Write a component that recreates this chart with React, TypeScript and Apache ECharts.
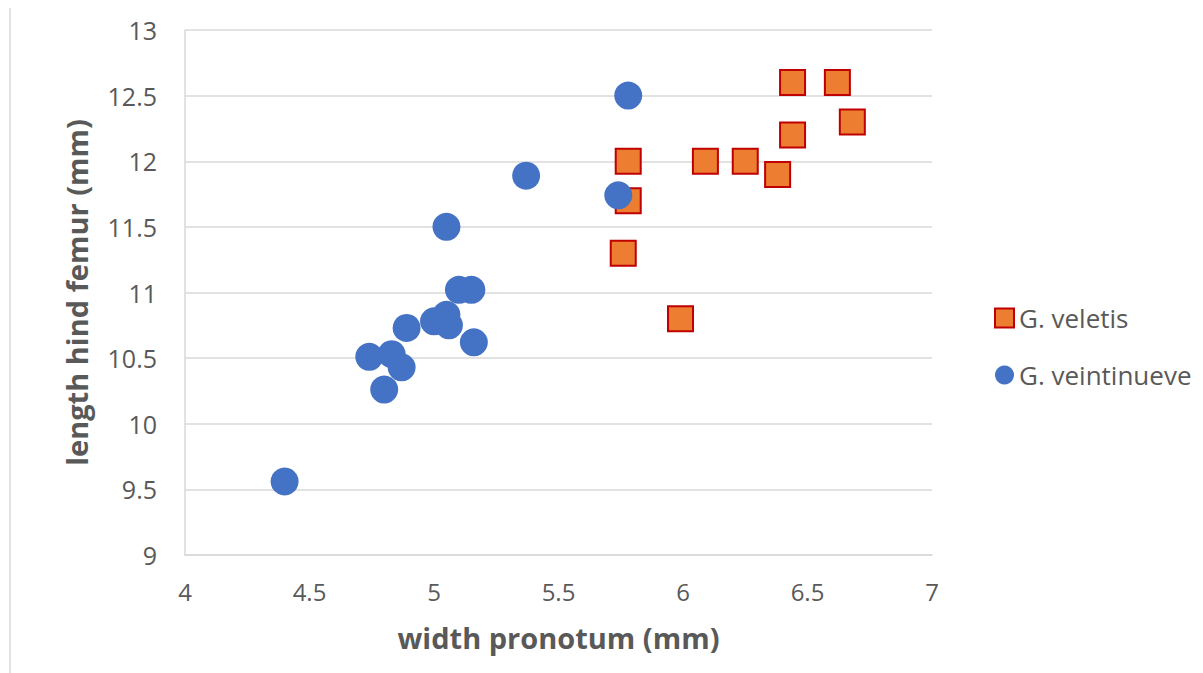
import React, { useEffect, useRef } from "react";
import * as echarts from "echarts";

const veletisX = [6.44, 6.62, 6.68, 6.44, 5.78, 6.09, 6.25, 6.38, 5.78, 5.76, 5.99];
const veletisY = [12.6, 12.6, 12.3, 12.2, 12.0, 12.0, 12.0, 11.9, 11.7, 11.3, 10.8];

const veintX = [5.78, 5.37, 5.74, 5.05, 5.10, 5.15, 5.05, 5.0, 5.06, 4.89, 5.16, 4.74, 4.83, 4.87, 4.80, 4.40];
const veintY = [12.5, 11.89, 11.74, 11.5, 11.02, 11.02, 10.83, 10.78, 10.75, 10.73, 10.62, 10.51, 10.53, 10.43, 10.26, 9.56];

const seriesNames = ["G. veletis", "G. veintinueve"];
const xTitle = "width pronotum (mm)";
const yTitle = "length hind femur (mm)";

const FONT = "'Open Sans', 'Liberation Sans', sans-serif";

export default function App() {
  const ref = useRef<HTMLDivElement>(null);
  useEffect(() => {
    if (!ref.current) return;
    const chart = echarts.init(ref.current, undefined, { renderer: "svg" });
    chart.setOption({
      animation: false,
      backgroundColor: "#ffffff",
      textStyle: { fontFamily: FONT },
      grid: { left: 185, right: 271, top: 30, bottom: 118, containLabel: false },
      xAxis: {
        type: "value",
        min: 4,
        max: 7,
        interval: 0.5,
        name: xTitle,
        nameLocation: "middle",
        nameGap: 68,
        nameTextStyle: { fontSize: 29, fontWeight: "bold", color: "#595959", fontFamily: FONT },
        axisLine: { show: true, onZero: false, lineStyle: { color: "#d9d9d9", width: 1.5 } },
        axisTick: { show: false },
        splitLine: { show: false },
        axisLabel: { fontSize: 24, color: "#595959", margin: 24, fontFamily: FONT },
      },
      yAxis: {
        type: "value",
        min: 9,
        max: 13,
        interval: 0.5,
        name: yTitle,
        nameLocation: "middle",
        nameGap: 94,
        nameTextStyle: { fontSize: 29, fontWeight: "bold", color: "#595959", fontFamily: FONT },
        axisLine: { show: true, onZero: false, lineStyle: { color: "#d9d9d9", width: 1.5 } },
        axisTick: { show: false },
        splitLine: { show: true, lineStyle: { color: "#d9d9d9", width: 1.5 } },
        axisLabel: { fontSize: 25, color: "#595959", margin: 28, fontFamily: FONT },
      },
      legend: {
        orient: "vertical",
        left: 989,
        top: 300,
        itemGap: 31,
        itemWidth: 19,
        itemHeight: 19,
        textStyle: { fontSize: 26, color: "#595959", fontFamily: FONT },
        data: seriesNames,
      },
      series: [
        {
          name: seriesNames[0],
          type: "scatter",
          symbol: "rect",
          symbolSize: 25,
          itemStyle: { color: "#ED7D31", borderColor: "#C00000", borderWidth: 2, opacity: 1 },
          data: veletisX.map((x, i) => [x, veletisY[i]]),
        },
        {
          name: seriesNames[1],
          type: "scatter",
          symbol: "circle",
          symbolSize: 28,
          itemStyle: { color: "#4472C4", opacity: 1 },
          data: veintX.map((x, i) => [x, veintY[i]]),
        },
      ],
      graphic: [
        {
          type: "line",
          shape: { x1: 10, y1: 8, x2: 10, y2: 673 },
          style: { stroke: "#d9d9d9", lineWidth: 1.5 },
        },
      ],
    });
    return () => chart.dispose();
  }, []);
  return (
    <div
      ref={ref}
      style={{ position: "absolute", left: 0, top: 0, width: 1203, height: 673 }}
    />
  );
}
